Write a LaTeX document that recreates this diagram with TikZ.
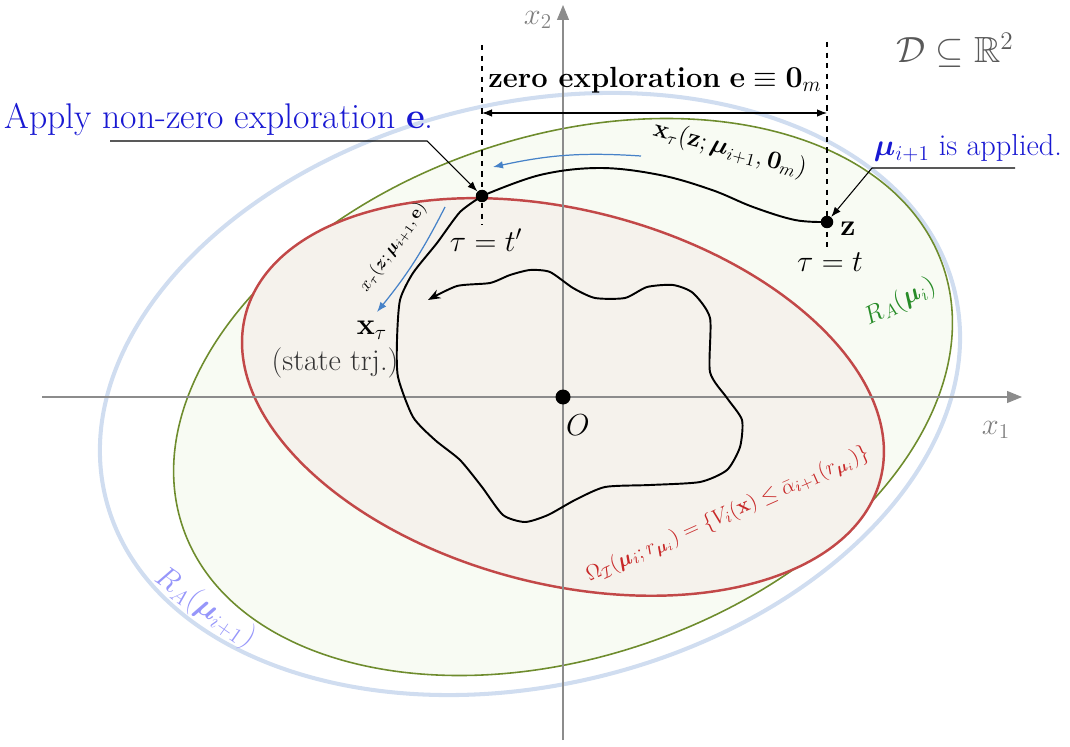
\documentclass[tikz,border=0pt]{standalone}
\usepackage{amsmath,amssymb,bm}
\usetikzlibrary{arrows.meta,positioning}

\definecolor{roafill}{RGB}{248,251,243}
\definecolor{roaline}{RGB}{110,140,45}
\definecolor{roatext}{RGB}{40,140,40}
\definecolor{omfill}{RGB}{245,242,236}
\definecolor{omline}{RGB}{194,72,72}
\definecolor{omtext}{RGB}{200,40,40}
\definecolor{nextline}{RGB}{208,221,240}
\definecolor{nexttext}{RGB}{150,150,250}
\definecolor{flowblue}{RGB}{70,130,200}
\definecolor{notetext}{RGB}{25,25,210}

\begin{document}
\begin{tikzpicture}[
    x=0.02cm, y=0.02cm,
    axis/.style={draw=black!45, line width=0.6pt, -{Triangle[length=3mm, width=2.4mm]}},
    dot/.style={circle, fill=black, inner sep=0pt, minimum size=0.25cm},
    guide/.style={dashed, line width=0.6pt},
    traj/.style={line width=1.1pt, line join=round},
    flow/.style={-{Latex[length=2mm]}, draw=flowblue, line width=0.7pt},
    lead/.style={-{Latex[length=2mm]}, line width=0.6pt},
    lbl/.style={inner sep=1pt}
]
\useasboundingbox (0,0) rectangle (1070,-746);

\coordinate (ctr) at (563,-397);
\coordinate (ctrb) at (530,-394);

\draw[nextline, line width=2.3pt, rotate around={13.7:(ctrb)}] (ctrb) ellipse (8.74cm and 5.82cm);
\draw[roaline, fill=roafill, line width=0.9pt, rotate around={19:(ctr)}] (ctr) ellipse (8.04cm and 5.2cm);
\draw[omline, fill=omfill, line width=1.4pt, rotate around={-14.5:(ctr)}] (ctr) ellipse (6.56cm and 3.74cm);

\coordinate (xa) at (42,-397);
\coordinate (xb) at (1022,-397);
\coordinate (ya) at (563,-740);
\coordinate (yb) at (563,-5);
\draw[axis] (xa) -- (xb);
\draw[axis] (ya) -- (yb);
\node[lbl, font=\LARGE, text=black!50] (x1) at (996,-430) {$x_1$};
\node[lbl, font=\LARGE, text=black!50] (x2) at (538,-20) {$x_2$};
\node[lbl, font=\huge, text=black!65] (dom) at (955,-50) {$\mathcal{D}\subseteq\mathbb{R}^2$};

\node[dot, minimum size=0.3cm] (orig) at (ctr) {};
\node[lbl, font=\LARGE] (olab) at (578,-425) {$O$};

\node[dot] (zp) at (482,-196) {};
\node[dot] (zt) at (827,-222) {};

\coordinate (ptop) at (482,-45);
\coordinate (pbot) at (482,-225);
\coordinate (ztop) at (827,-42);
\coordinate (zbot) at (827,-247);
\draw[guide] (ptop) -- (pbot);
\draw[guide] (ztop) -- (zbot);
\coordinate (spanl) at (482,-113);
\coordinate (spanr) at (827,-113);
\draw[{Latex[length=2mm]}-{Latex[length=2mm]}, line width=0.6pt] (spanl) -- (spanr);
\node[lbl, font=\fontsize{16.6}{20}\selectfont] (span) at (655,-80) {\textbf{zero exploration} $\mathbf{e}\equiv\mathbf{0}_m$};

\node[lbl, font=\LARGE] (tp) at (486,-240) {$\tau=t'$};
\node[lbl, font=\LARGE] (tt) at (830,-262) {$\tau=t$};
\node[lbl, font=\LARGE] (zlab) at (848,-229) {$\mathbf{z}$};

\draw[traj] plot[smooth, tension=0.6] coordinates {(zt.center) (795,-220) (753,-207) (712,-190) (660,-175) (600,-168) (540,-175) (zp.center)};
\draw[traj, -{Stealth[length=2.5mm]}] plot[smooth, tension=0.4] coordinates {(zp.center) (460,-212) (437,-243) (413,-273) (400,-300) (397,-340) (398,-377) (413,-417) (435,-440) (460,-460) (482,-487) (503,-515) (525,-522) (548,-515) (575,-500) (605,-487) (650,-485) (700,-482) (727,-470) (740,-447) (742,-420) (727,-398) (710,-372) (710,-318) (693,-293) (673,-285) (647,-287) (625,-298) (595,-298) (573,-288) (550,-272) (530,-270) (510,-275) (490,-283) (457,-286) (428,-300)};

\coordinate (fa) at (641,-156);
\coordinate (fb) at (493,-167);
\draw[flow] (fa) to[bend right=8] (fb);
\node[lbl, font=\Large, rotate=-15] (uplab) at (730,-150) {$\mathbf{x}_\tau(\mathbf{z};\boldsymbol{\mu}_{i+1},\mathbf{0}_m)$};
\coordinate (fc) at (445,-207);
\coordinate (fd) at (377,-312);
\draw[flow] (fc) to[bend left=6] (fd);
\node[lbl, font=\normalsize, rotate=55] (lowlab) at (393,-247) {$x_\tau(\boldsymbol{z};\boldsymbol{\mu}_{i+1},\mathbf{e})$};

\node[lbl, font=\LARGE] (xt) at (372,-330) {$\mathbf{x}_\tau$};
\node[lbl, font=\LARGE, text=black!80] (state) at (335,-363) {(state trj.)};

\node[lbl, font=\fontsize{20.3}{24}\selectfont, text=notetext] (apply) at (219,-120) {Apply non-zero exploration $\mathbf{e}$.};
\coordinate (la) at (110,-141);
\coordinate (lb) at (427,-141);
\draw[lead] (la) -- (lb) -- (zp);
\node[lbl, font=\LARGE, text=notetext] (applied) at (968,-148) {$\boldsymbol{\mu}_{i+1}$ is applied.};
\coordinate (lc) at (1015,-168);
\coordinate (ld) at (872,-168);
\draw[lead] (lc) -- (ld) -- (zt);

\node[lbl, font=\Large, text=roatext, rotate=27] (roa) at (900,-302) {$R_A(\boldsymbol{\mu}_i)$};
\node[lbl, font=\LARGE, text=nexttext, rotate=-35] (roanext) at (205,-608) {$R_A(\boldsymbol{\mu}_{i+1})$};
\node[lbl, font=\fontsize{13}{15}\selectfont, text=omtext, rotate=24] (omlab) at (728,-515) {$\Omega_{\mathcal{I}}(\boldsymbol{\mu}_i;r_{\boldsymbol{\mu}_i})=\{V_i(\mathbf{x})\leq\bar{\alpha}_{i+1}(r_{\boldsymbol{\mu}_i})\}$};
\end{tikzpicture}
\end{document}
